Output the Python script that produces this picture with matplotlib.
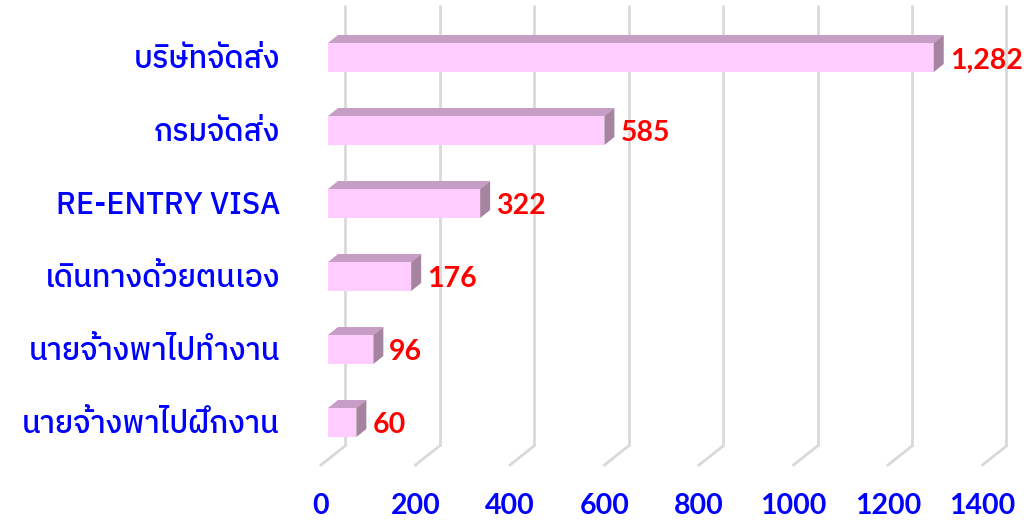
import matplotlib
matplotlib.use("Agg")
import matplotlib.pyplot as plt
from matplotlib import font_manager
from matplotlib.ft2font import FT2Font
from matplotlib.patches import Polygon

categories = ["บริษัทจัดส่ง", "กรมจัดส่ง", "RE-ENTRY VISA", "เดินทางด้วยตนเอง",
              "นายจ้างพาไปทำงาน", "นายจ้างพาไปฝึกงาน"]
values = [1282, 585, 322, 176, 96, 60]
xticks = [0, 200, 400, 600, 800, 1000, 1200, 1400]


def find_thai_font():
    best = None
    for f in font_manager.fontManager.ttflist:
        try:
            cmap = FT2Font(f.fname).get_charmap()
        except Exception:
            continue
        if 0x0E01 in cmap and 0x0041 in cmap:
            score = 0
            if f.weight in (400, "normal", "regular"):
                score += 2
            if f.style == "normal":
                score += 1
            if "Thai" in f.name:
                score += 1
            if best is None or score > best[0]:
                best = (score, f.name)
    return best[1] if best else "DejaVu Sans"


thai_font = find_thai_font()

W, H = 1024, 527
fig = plt.figure(figsize=(W / 100, H / 100), dpi=100)

# pixel geometry of the reference
sx = 0.4725          # px per unit
x0_px = 328          # bar front face at value 0
row0_px, row_step = 57.5, 73.0
xlim = (-60, 1470)
left_px = x0_px + xlim[0] * sx
ax = fig.add_axes([left_px / W, 0, (xlim[1] - xlim[0]) * sx / W, 1])
ax.set_xlim(*xlim)
ax.set_ylim((H - row0_px) / row_step, -row0_px / row_step)
ax.axis("off")

ux = 1.0 / sx          # data units per px in x
uy = 1.0 / row_step    # data units per px in y

# floor / back wall geometry (px offsets)
floor_front_dx, floor_back_dx = -7, 17
floor_front_y = (465 - row0_px) * uy
floor_back_y = (446 - row0_px) * uy
wall_top_y = (5 - row0_px) * uy

for t in xticks:
    xb = t + floor_back_dx * ux
    xf = t + floor_front_dx * ux
    ax.plot([xb, xb], [wall_top_y, floor_back_y], color="#D9D9D9", lw=2, zorder=1,
            solid_capstyle="butt")
    ax.plot([xb, xf], [floor_back_y, floor_front_y], color="#D9D9D9", lw=2, zorder=1)
    ax.text(xf, (506 - row0_px) * uy, str(t), ha="center", va="center",
            fontsize=20.5, fontweight="bold", color="#0000FF", family="Lato")

bar_h = 29 * uy
ddx, ddy = 10 * ux, -8 * uy
front_c, top_c, side_c = "#FFCCFF", "#C59DC5", "#A6839F"

for i, (cat, v) in enumerate(zip(categories, values)):
    y1, y2 = i - bar_h / 2, i + bar_h / 2
    front = Polygon([(0, y1), (v, y1), (v, y2), (0, y2)], closed=True,
                    facecolor=front_c, edgecolor="none", zorder=3)
    top = Polygon([(0, y1), (v, y1), (v + ddx, y1 + ddy), (ddx, y1 + ddy)], closed=True,
                  facecolor=top_c, edgecolor="none", zorder=3)
    side = Polygon([(v, y1), (v + ddx, y1 + ddy), (v + ddx, y2 + ddy), (v, y2)], closed=True,
                   facecolor=side_c, edgecolor="none", zorder=3)
    for p in (front, top, side):
        ax.add_patch(p)
    ax.text(v + 16 * ux, i + 0.04, f"{v:,}", ha="left", va="center", fontsize=20.5,
            fontweight="bold", color="#FF0000", family="Lato", zorder=4)
    ax.text(-48 * ux, i + 0.02, cat, ha="right", va="center", fontsize=22,
            fontweight=500, color="#0000FF", family=[thai_font, "DejaVu Sans"], zorder=4)

fig.savefig("out.png", dpi=100)
